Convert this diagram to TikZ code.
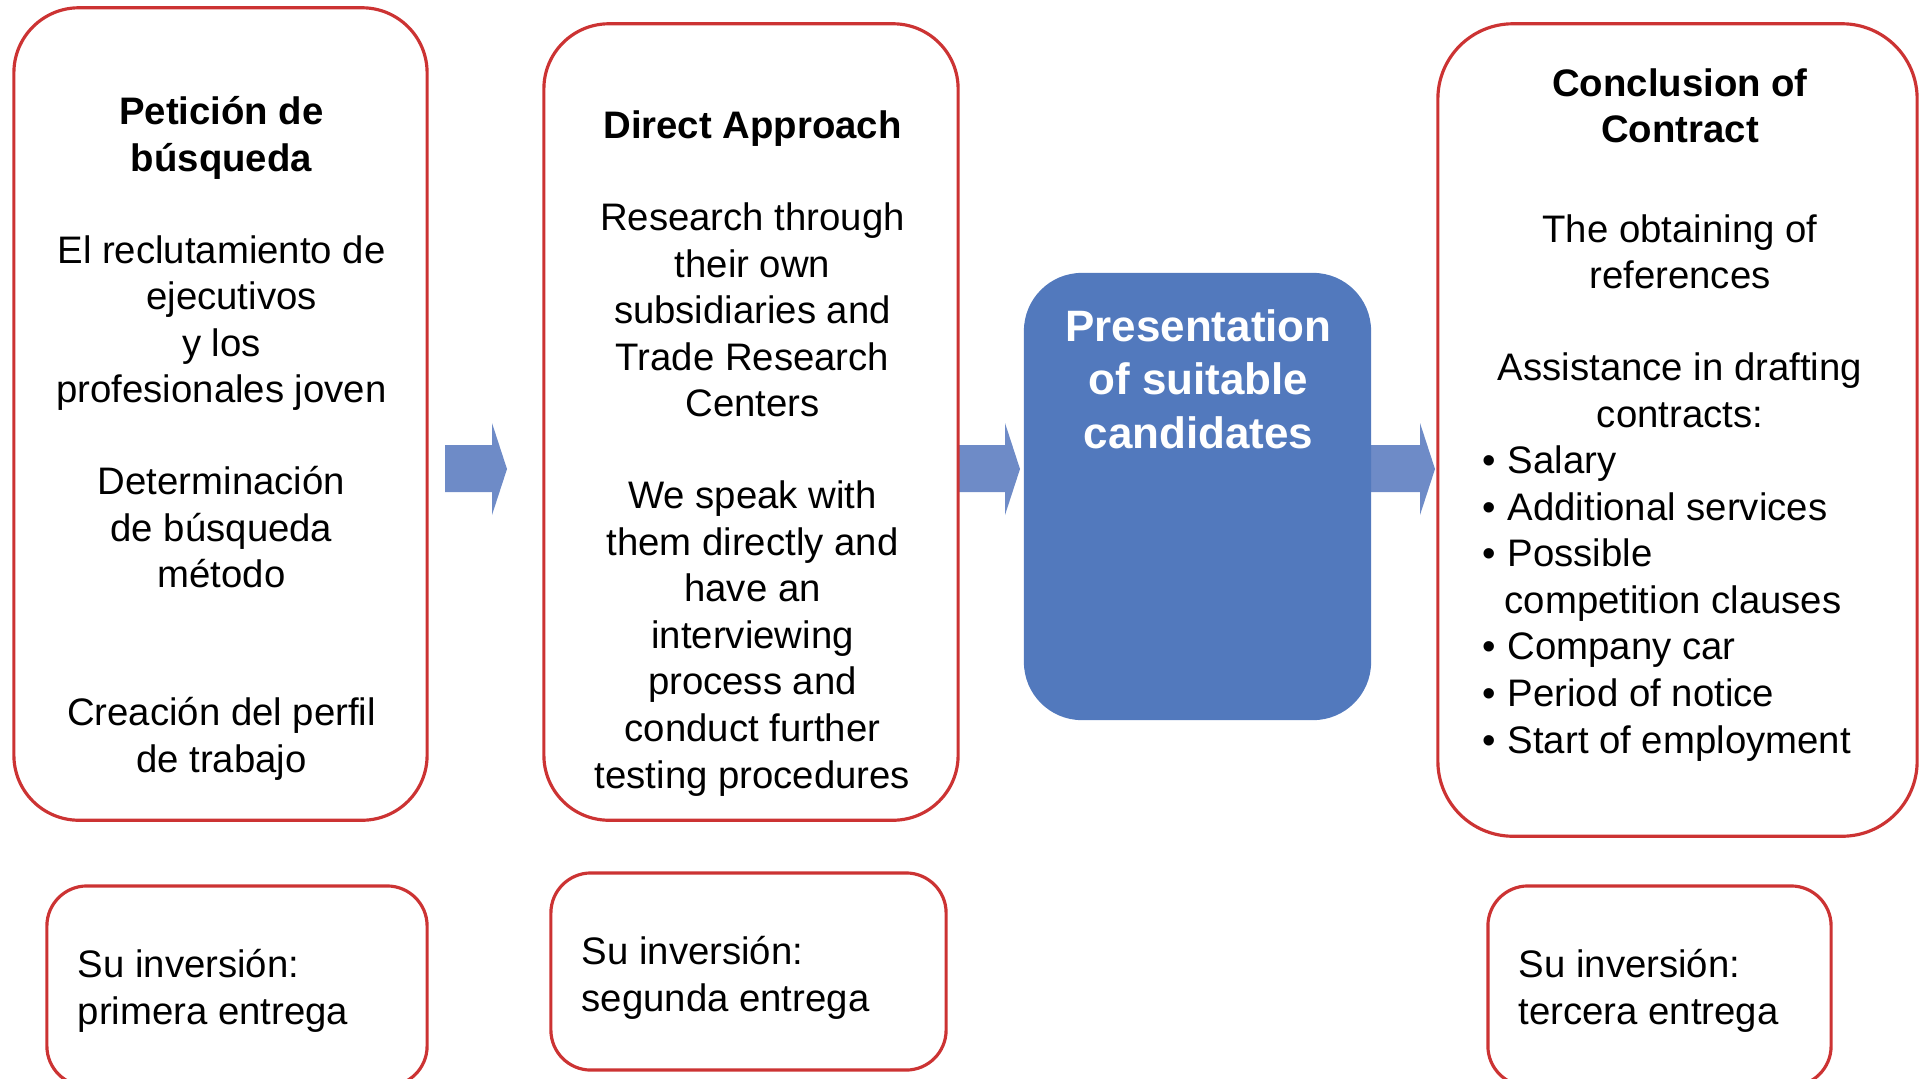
\documentclass[tikz,border=0pt]{standalone}
\usepackage{fontspec}
\setmainfont{Liberation Sans}
\usetikzlibrary{positioning}

\definecolor{boxred}{HTML}{CC3333}
\definecolor{candblue}{HTML}{5279BD}
\definecolor{arrowblue}{HTML}{6E8BC7}

\tikzset{
  redbox/.style={draw=boxred, line width=0.9pt, fill=white},
  txt/.style={align=center, inner sep=0pt, anchor=base, font=\fontsize{10.9pt}{13.25pt}\selectfont},
  paytxt/.style={align=left, inner sep=0pt, anchor=base west, font=\fontsize{10.9pt}{13.25pt}\selectfont},
}
\newcommand\bul{\makebox[0.25cm][l]{•}}

\begin{document}
\begin{tikzpicture}[x=0.01cm, y=-0.01cm]
\useasboundingbox (0,0) rectangle (1921,1078);
\clip (0,0) rectangle (1921,1078);
% block arrows between the steps
\foreach \xa/\xb in {445/507, 958/1020, 1371/1435}
  \fill[arrowblue] (\xa,445) -- (\xb-15,445) -- (\xb-15,423) -- (\xb,469)
    -- (\xb-15,515) -- (\xb-15,492) -- (\xa,492) -- cycle;
% steps
\node[redbox, rounded corners=0.65cm, minimum width=4.13cm, minimum height=8.12cm] (req) at (220.5,414) {};
\node[redbox, rounded corners=0.65cm, minimum width=4.14cm, minimum height=7.96cm] (direct) at (751,422) {};
\node[fill=candblue, rounded corners=0.58cm, minimum width=3.47cm, minimum height=4.47cm] (cand) at (1197.5,496.5) {};
\node[redbox, rounded corners=0.75cm, minimum width=4.79cm, minimum height=8.12cm] (contract) at (1677.5,430) {};
% payments
\node[redbox, rounded corners=0.4cm, minimum width=3.80cm, minimum height=2.00cm] (pay1) at (237,986) {};
\node[redbox, rounded corners=0.4cm, minimum width=3.95cm, minimum height=1.97cm] (pay2) at (748.5,971.5) {};
\node[redbox, rounded corners=0.4cm, minimum width=3.43cm, minimum height=2.00cm] (pay3) at (1659.5,986) {};
% texts (base = last line)
\node[txt] (reqtxt) at (221.5,772) {\textbf{Petición de}\\\textbf{búsqueda}\\[12.8pt]
  El reclutamiento de\\ \hspace*{0.2cm}ejecutivos\\ y los\\ profesionales joven\\[12.8pt]
  Determinación\\ de búsqueda\\ método\\[25.9pt]
  Creación del perfil\\ de trabajo};
\node[txt] (directtxt) at (752.5,788) {\textbf{Direct Approach}\\[12.8pt]
  Research through\\ their own\\ subsidiaries and\\ Trade Research\\ Centers\\[12.8pt]
  We speak with\\ them directly and\\ have an\\ interviewing\\ process and\\ conduct further\\ testing procedures};
\node[txt, text=white, font=\bfseries\fontsize{12.5pt}{15.1pt}\selectfont] (candtxt) at (1198.5,448) {Presentation\\ of suitable\\ candidates};
\node[txt] (contracttxt) at (1680,427) {\textbf{Conclusion of}\\\textbf{Contract}\\[15pt]
  The obtaining of\\ references\\[12.8pt]
  Assistance in drafting\\ contracts:};
\node[paytxt] (terms) at (1482,753) {\bul Salary\\ \bul Additional services\\
  \bul Possible\\ \hspace*{0.22cm}competition clauses\\ \bul Company car\\
  \bul Period of notice\\ \bul Start of employment};
\node[paytxt] (pay1txt) at (77,1024) {Su inversión:\\ primera entrega};
\node[paytxt] (pay2txt) at (581,1011) {Su inversión:\\ segunda entrega};
\node[paytxt] (pay3txt) at (1518,1024) {Su inversión:\\ tercera entrega};
\end{tikzpicture}
\end{document}
